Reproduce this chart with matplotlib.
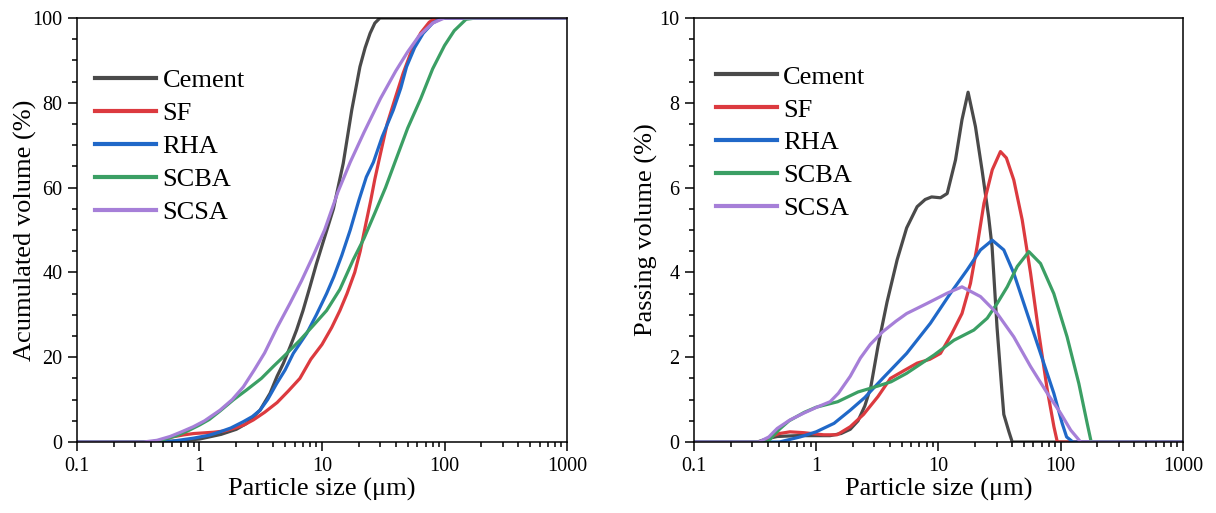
import matplotlib
matplotlib.use("Agg")
import matplotlib.pyplot as plt
from matplotlib.ticker import MultipleLocator, LogLocator, NullFormatter, FixedLocator

plt.rcParams['font.family'] = ['Liberation Serif', 'DejaVu Serif']

NAMES = ["Cement", "SF", "RHA", "SCBA", "SCSA"]
COLORS = ["#4a4a4a", "#dc3a3f", "#2068c8", "#3b9f64", "#a67fd8"]

# accumulated volume (%) vs particle size (um)
cem_acc_x = [0.1, 0.45, 0.7, 1.0, 1.5, 2.0, 2.43, 3.12, 3.77, 4.3, 4.83, 5.5, 6.2, 7.0, 7.97, 9.0, 10.3,
             12.4, 14.9, 17.5, 20.4, 22.5, 24.7, 27, 29.7, 1000]
cem_acc_y = [0, 0, 0.3, 0.7, 1.8, 3.0, 4.4, 7.5, 11.5, 15.5, 18.5, 22.5, 26.4, 31, 36.6, 42, 47.5,
             55, 65.7, 78.3, 88.5, 93, 96.4, 98.8, 100, 100]
sf_acc_x = [0.1, 0.4, 0.5, 0.6, 0.75, 0.9, 1.3, 1.6, 1.9, 2.3, 2.75, 3.4, 4.3, 5.3, 6.6, 8.1, 10, 12, 14,
            16, 18.5, 20.5, 23, 25, 27, 30, 34, 40, 46, 55, 64, 75, 85, 1000]
sf_acc_y = [0, 0, 0.4, 1.2, 1.7, 2.0, 2.3, 2.6, 3.2, 4.0, 5.2, 7, 9.3, 12, 15, 19.5, 23, 27, 31,
            35, 40, 45, 52, 57, 62, 68, 75, 81.5, 87, 93, 96.5, 99, 100, 100]
rha_acc_x = [0.1, 0.45, 0.6, 0.89, 1.2, 1.47, 1.8, 2.28, 2.7, 3.12, 3.6, 4.27, 5.0, 5.83, 7.5, 9.0, 10.9,
             12.5, 14.5, 17, 20, 23, 26.3, 31, 38.2, 44, 49, 57, 67, 80, 95, 1000]
rha_acc_y = [0, 0, 0.2, 0.9, 1.6, 2.4, 3.3, 4.8, 6.0, 7.5, 10, 13.8, 17, 20.9, 25.6, 30, 35,
             39, 44, 50, 57, 62.5, 66, 72, 78.3, 83.5, 88.5, 93, 96.4, 98.8, 100, 100]
scba_acc_x = [0.1, 0.4, 0.5, 0.65, 0.8, 1.0, 1.2, 1.47, 1.9, 2.43, 3.2, 4.0, 5.0, 6.6, 8.5, 10.9, 14,
              18, 22, 27, 33, 40, 50, 64, 80, 100, 120, 150, 180, 1000]
scba_acc_y = [0, 0, 0.5, 1.5, 2.6, 4, 5.3, 7.3, 10, 12.3, 15, 17.8, 20.5, 24, 27.5, 31, 36,
              43, 48, 54, 60, 66.5, 74, 81, 88, 93.5, 97, 99.7, 100, 100]
scsa_acc_x = [0.1, 0.35, 0.45, 0.575, 0.7, 0.89, 1.1, 1.47, 1.85, 2.28, 2.8, 3.4, 4.3, 5.48, 6.8, 8.5,
              10.5, 13.5, 17, 22, 30, 40, 50, 62, 80, 100, 1000]
scsa_acc_y = [0, 0, 0.4, 1.3, 2.3, 3.6, 5.0, 7.5, 10, 13, 17, 21, 27, 32.7, 38, 44,
              50, 59, 66, 73, 81, 87.5, 92, 95.8, 98.8, 100, 100]

# passing volume (%) vs particle size (um)
cem_pas_x = [0.1, 0.33, 0.4, 0.48, 0.7, 1.0, 1.3, 1.6, 1.9, 2.2, 2.5, 2.8, 3.2, 3.8, 4.6, 5.5, 6.7, 7.8,
             8.8, 10.4, 11.8, 13.8, 15.6, 17.5, 20.1, 22.8, 25.8, 27.5, 30.2, 33.2, 34.3, 37.7, 40.2, 1000]
cem_pas_y = [0, 0, 0.08, 0.13, 0.15, 0.15, 0.15, 0.2, 0.3, 0.5, 0.85, 1.3, 2.25, 3.3, 4.3, 5.05, 5.55, 5.72,
             5.78, 5.76, 5.86, 6.65, 7.6, 8.25, 7.44, 6.4, 5.3, 4.6, 2.7, 1.15, 0.65, 0.25, 0, 0]
sf_pas_x = [0.1, 0.38, 0.42, 0.5, 0.61, 0.79, 1.15, 1.48, 1.9, 2.44, 3.2, 4.05, 5.2, 6.7, 8.5, 10.4, 12.9,
            15.6, 18.3, 20.7, 23.6, 27.6, 32.2, 36, 41.4, 48.5, 56.8, 66.4, 77.8, 88.2, 94, 1000]
sf_pas_y = [0, 0, 0.12, 0.2, 0.24, 0.22, 0.17, 0.17, 0.36, 0.65, 1.07, 1.5, 1.68, 1.86, 1.95, 2.09, 2.56,
            3.03, 3.74, 4.6, 5.63, 6.42, 6.85, 6.7, 6.18, 5.24, 3.98, 2.56, 1.23, 0.36, 0, 0]
rha_pas_x = [0.1, 0.5, 0.74, 1.0, 1.4, 1.9, 2.5, 3.5, 5.5, 8.6, 12.5, 17.2, 22.1, 27.6, 34.3, 41.4, 53.3,
             68.5, 88, 103, 112, 126, 1000]
rha_pas_y = [0, 0, 0.12, 0.24, 0.44, 0.75, 1.05, 1.5, 2.09, 2.8, 3.5, 4.06, 4.53, 4.76, 4.53, 3.98, 3.03,
             2.09, 1.15, 0.44, 0.12, 0, 0]
scba_pas_x = [0.1, 0.4, 0.5, 0.6, 0.8, 1.0, 1.5, 2.2, 3.2, 4.1, 5.5, 9.2, 13.4, 19.5, 25.1, 30.3, 36.6,
              44.2, 55, 68.5, 88, 113, 141, 165, 178, 1000]
scba_pas_y = [0, 0, 0.3, 0.5, 0.7, 0.82, 0.95, 1.18, 1.32, 1.42, 1.62, 2.05, 2.4, 2.64, 2.92, 3.27, 3.66,
              4.14, 4.49, 4.21, 3.5, 2.48, 1.38, 0.44, 0, 0]
scsa_pas_x = [0.1, 0.34, 0.41, 0.48, 0.61, 0.79, 1.01, 1.3, 1.52, 1.9, 2.3, 2.77, 3.5, 4.5, 5.5, 8.1, 11.8,
              15.6, 22.1, 30.3, 41.4, 56.8, 77.8, 100, 121, 146, 1000]
scsa_pas_y = [0, 0, 0.12, 0.32, 0.52, 0.68, 0.82, 0.95, 1.15, 1.55, 1.98, 2.3, 2.6, 2.85, 3.03, 3.27, 3.51,
              3.66, 3.43, 3.03, 2.48, 1.78, 1.15, 0.68, 0.28, 0, 0]

acc_series = [(cem_acc_x, cem_acc_y), (sf_acc_x, sf_acc_y), (rha_acc_x, rha_acc_y),
              (scba_acc_x, scba_acc_y), (scsa_acc_x, scsa_acc_y)]
pas_series = [(cem_pas_x, cem_pas_y), (sf_pas_x, sf_pas_y), (rha_pas_x, rha_pas_y),
              (scba_pas_x, scba_pas_y), (scsa_pas_x, scsa_pas_y)]

fig = plt.figure(figsize=(12.16, 5.13), dpi=100)
ax1 = fig.add_axes([0.0633, 0.1384, 0.403, 0.8265])
ax2 = fig.add_axes([0.5707, 0.1384, 0.402, 0.8265])


def style(ax, ymax, major, minor, ylabel, label_x, legend_pos):
    ax.set_xscale("log")
    ax.set_xlim(0.1, 1000)
    ax.set_ylim(0, ymax)
    ax.xaxis.set_major_locator(FixedLocator([0.1, 1, 10, 100, 1000]))
    ax.set_xticklabels(["0.1", "1", "10", "100", "1000"])
    ax.xaxis.set_minor_locator(LogLocator(base=10, subs=range(2, 10)))
    ax.xaxis.set_minor_formatter(NullFormatter())
    ax.yaxis.set_major_locator(MultipleLocator(major))
    ax.yaxis.set_minor_locator(MultipleLocator(minor))
    ax.tick_params(which="both", direction="out", top=False, right=False, labelsize=14.5, width=1.1)
    ax.tick_params(which="major", length=6.5, pad=4)
    ax.tick_params(which="minor", length=3.5)
    for s in ax.spines.values():
        s.set_linewidth(1.1)
    ax.set_xlabel("Particle size (\u03bcm)", fontsize=19, labelpad=2)
    ax.set_ylabel(ylabel, fontsize=19)
    ax.yaxis.set_label_coords(label_x, 0.5)
    leg = ax.legend(loc="upper left", bbox_to_anchor=legend_pos, frameon=False, fontsize=19,
                    handlelength=2.3, handletextpad=0.25, labelspacing=0.36, borderpad=0, borderaxespad=0)
    for h in leg.get_lines():
        h.set_linewidth(3)


for (x, y), name, c in zip(acc_series, NAMES, COLORS):
    ax1.plot(x, y, color=c, lw=2.3, label=name)
for (x, y), name, c in zip(pas_series, NAMES, COLORS):
    ax2.plot(x, y, color=c, lw=2.3, label=name)

style(ax1, 100, 20, 5, "Acumulated volume (%)", -0.082, (0.037, 0.880))
style(ax2, 10, 2, 0.5, "Passing volume (%)", -0.074, (0.045, 0.889))

fig.savefig("out.png", dpi=100)
